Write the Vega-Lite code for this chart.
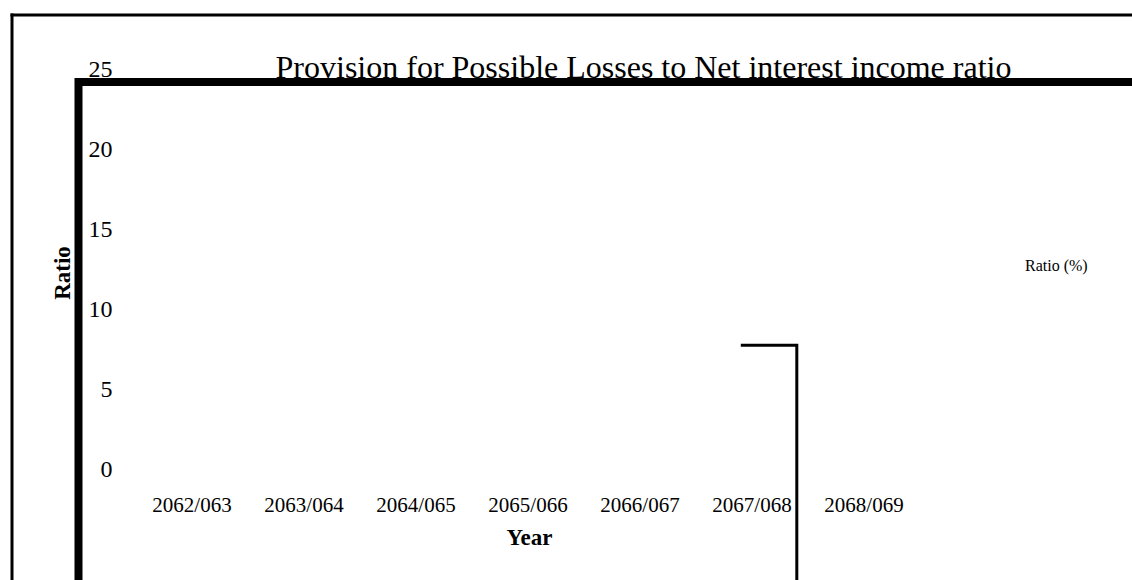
{
  "$schema": "https://vega.github.io/schema/vega-lite/v6.json",
  "width": 1130,
  "height": 600,
  "autosize": {"type": "none"},
  "padding": {"left": 78.5, "top": 82, "right": 0, "bottom": 0},
  "background": "white",
  "title": {
    "text": "Provision for Possible Losses to Net interest income ratio",
    "font": "Liberation Serif",
    "fontSize": 32,
    "fontWeight": "normal",
    "color": "black",
    "anchor": "middle",
    "frame": "group",
    "baseline": "alphabetic",
    "offset": 0,
    "dy": 95.5
  },
  "data": {
    "values": [
      {"year": "2062/063", "ratio": null},
      {"year": "2063/064", "ratio": null},
      {"year": "2064/065", "ratio": null},
      {"year": "2065/066", "ratio": null},
      {"year": "2066/067", "ratio": null},
      {"year": "2067/068", "ratio": 7.76},
      {"year": "2068/069", "ratio": -20}
    ]
  },
  "resolve": {"scale": {"x": "independent"}, "axis": {"x": "independent"}},
  "layer": [
    {
      "mark": {"type": "line", "interpolate": "step", "strokeWidth": 3},
      "encoding": {
        "x": {
          "field": "year",
          "type": "nominal",
          "bandPosition": 0.4,
          "scale": {
            "type": "band",
            "domain": ["2062/063", "2063/064", "2064/065", "2065/066", "2066/067", "2067/068", "2068/069"],
            "range": [0, 1008],
            "paddingInner": 0,
            "paddingOuter": 1,
            "align": 0.2567
          },
          "axis": {
            "orient": "bottom",
            "offset": -170.5,
            "domain": false,
            "ticks": false,
            "tickSize": 0,
            "grid": false,
            "labelPadding": 0,
            "labelBaseline": "alphabetic",
            "labelAngle": 0,
            "labelFont": "Liberation Serif",
            "labelFontSize": 21,
            "labelColor": "black",
            "labelOverlap": false,
            "labelFlush": false,
            "title": "Year",
            "titleFont": "Liberation Serif",
            "titleFontSize": 23,
            "titleFontWeight": "bold",
            "titleColor": "black",
            "titleX": 450.5,
            "titleY": 32.5,
            "titleAlign": "center",
            "titleBaseline": "alphabetic"
          }
        },
        "y": {
          "field": "ratio",
          "type": "quantitative",
          "scale": {"domain": [-15, 28.4375], "range": [627.5, -67.5], "zero": false, "nice": false},
          "axis": {
            "orient": "left",
            "offset": 67,
            "values": [0, 5, 10, 15, 20, 25],
            "domain": true,
            "domainColor": "black",
            "domainWidth": 3,
            "domainCap": "square",
            "ticks": false,
            "tickSize": 0,
            "grid": false,
            "labelPadding": -100.5,
            "labelFont": "Liberation Serif",
            "labelFontSize": 24,
            "labelColor": "black",
            "labelOverlap": false,
            "labelFlush": false,
            "title": "Ratio",
            "titleFont": "Liberation Serif",
            "titleFontSize": 23,
            "titleFontWeight": "bold",
            "titleColor": "black",
            "titleAngle": 270,
            "titleX": 58,
            "titleY": 190.5,
            "titleAlign": "center",
            "titleBaseline": "alphabetic"
          }
        },
        "color": {
          "datum": "Ratio (%)",
          "scale": {"range": ["black"]},
          "legend": {
            "orient": "none",
            "legendX": 930.5,
            "legendY": 176,
            "title": null,
            "padding": 0,
            "symbolType": "stroke",
            "symbolOpacity": 0,
            "symbolSize": 100,
            "labelOffset": 0,
            "labelFont": "Liberation Serif",
            "labelFontSize": 16,
            "labelColor": "black"
          }
        }
      }
    },
    {
      "mark": {"type": "rule", "opacity": 0},
      "encoding": {
        "x": {
          "field": "year",
          "type": "nominal",
          "scale": {
            "type": "band",
            "domain": ["2062/063", "2063/064", "2064/065", "2065/066", "2066/067", "2067/068", "2068/069"],
            "range": [-67, 1200]
          },
          "axis": {
            "orient": "top",
            "offset": 67.5,
            "domain": true,
            "domainColor": "black",
            "domainWidth": 3,
            "domainCap": "square",
            "ticks": false,
            "labels": false,
            "grid": false,
            "title": null
          }
        }
      }
    }
  ],
  "config": {
    "font": "Liberation Serif",
    "view": {"stroke": "black", "strokeWidth": 8}
  }
}
